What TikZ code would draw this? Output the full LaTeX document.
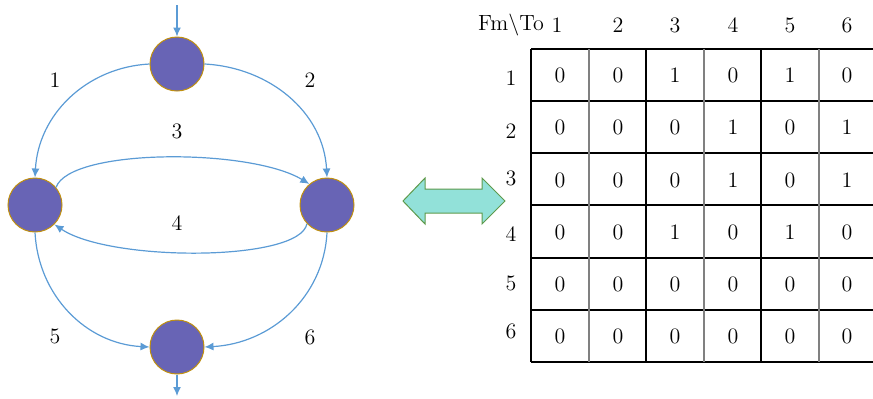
\documentclass[tikz,border=0pt]{standalone}
\usetikzlibrary{arrows.meta}
\definecolor{nodefill}{HTML}{6864B5}
\definecolor{nodeedge}{HTML}{C0900F}
\definecolor{edgecol}{HTML}{5B9BD5}
\definecolor{dafill}{HTML}{92E1D9}
\definecolor{daedge}{HTML}{5E9A4C}
\definecolor{gridgray}{HTML}{808080}
\begin{document}
\begin{tikzpicture}[x=0.5pt,y=-0.5pt,
  font=\fontsize{11}{13}\selectfont,
  vertex/.style={circle,fill=nodefill,draw=nodeedge,line width=0.5pt,minimum size=27pt,inner sep=0pt},
  edge/.style={draw=edgecol,line width=0.6pt,-{Latex[length=4.5pt,width=4pt]}},
  lbl/.style={inner sep=0pt},
  tline/.style={line width=0.6pt,draw=black},
  gline/.style={line width=0.6pt,draw=gridgray}]
\useasboundingbox (0,0) rectangle (873,398);
% nodes
\node[vertex] (t) at (177,64) {};
\node[vertex] (l) at (35,205) {};
\node[vertex] (r) at (327,205) {};
\node[vertex] (b) at (177,347) {};
\coordinate (tin) at (177,5);
\coordinate (bout) at (177,396);
% edges
\draw[edge] (tin) -- (t.north);
\draw[edge] (b.south) -- (bout);
\draw[edge] (t.west) to[out=183,in=87] (l.north);
\draw[edge] (t.east) to[out=-3,in=93] (r.north);
\draw[edge] (l.south) to[out=-87,in=177] (b.west);
\draw[edge] (r.south) to[out=-93,in=3] (b.east);
\draw[edge] (l.40) .. controls (70,148) and (250,148) .. (r.130);
\draw[edge] (r.223) .. controls (300,262) and (110,262) .. (l.-45);
% edge labels
\node[lbl] (e1) at (55,80) {1};
\node[lbl] (e2) at (310,80) {2};
\node[lbl] (e3) at (177,131) {3};
\node[lbl] (e4) at (177,223) {4};
\node[lbl] (e5) at (55,336) {5};
\node[lbl] (e6) at (310,337) {6};
% double arrow
\draw[fill=dafill,draw=daedge,line width=0.5pt]
  (403,201) -- (425,178) -- (425,189) -- (482,189) -- (482,178) -- (505,201)
  -- (482,224) -- (482,213) -- (425,213) -- (425,224) -- cycle;
% table grid
\foreach \y in {49,101,153,205,258,310,362} \draw[tline] (531,\y) -- (873,\y);
\foreach \x in {531,646,761} \draw[tline] (\x,49) -- (\x,362);
\foreach \x in {589,704,819} \draw[gline] (\x,49) -- (\x,362);
% header
\node[lbl] (fmto) at (511,25) {Fm\textbackslash To};
\foreach \c/\x in {1/557,2/618,3/675,4/733,5/790,6/847}
  \node[lbl] (h\c) at (\x,25) {\c};
% row labels
\foreach \r/\y in {1/78,2/131,3/178,4/234,5/283,6/331}
  \node[lbl] (rl\r) at (511,\y) {\r};
% cells
\def\rowvals{{0,0,1,0,1,0},{0,0,0,1,0,1},{0,0,0,1,0,1},{0,0,1,0,1,0},{0,0,0,0,0,0},{0,0,0,0,0,0}}
\foreach \ry [count=\ri] in {75,127,180,232,284,336}{
  \foreach \cx [count=\ci] in {560,618,675,733,790,847}{
    \pgfmathtruncatemacro{\v}{{\rowvals}[\ri-1][\ci-1]}
    \node[lbl] (c\ri\ci) at (\cx,\ry) {\v};
  }
}
\end{tikzpicture}
\end{document}
